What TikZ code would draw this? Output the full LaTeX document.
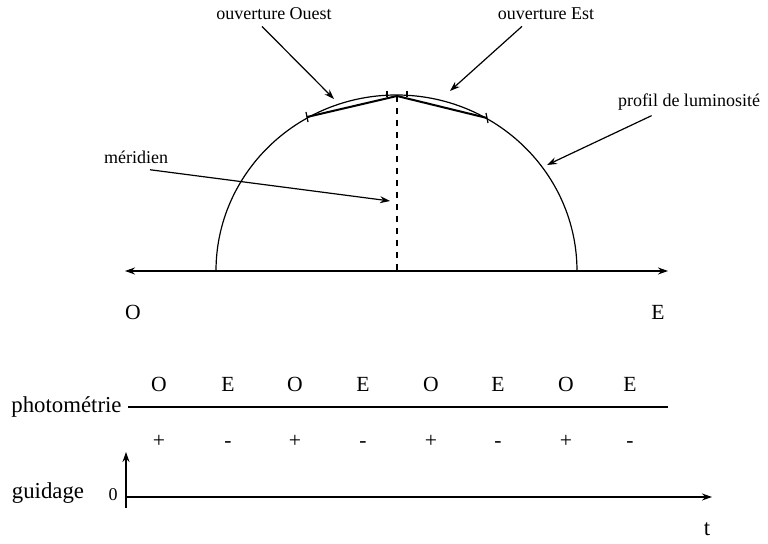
\documentclass[tikz,border=0pt]{standalone}
\usepackage{fontspec}
\setmainfont{Liberation Serif}
\usepackage{tikz}
\usetikzlibrary{arrows.meta,positioning,calc}
\tikzset{
  >={Stealth[length=5pt,width=3.5pt]},
  paxe/.style={line width=0.6pt},
  pfleche/.style={->, line width=0.6pt},
  pcorde/.style={line width=1pt},
  plbl/.style={font=\fontsize{9}{10}\selectfont, inner sep=1pt},
  pgrand/.style={font=\fontsize{11.4}{13}\selectfont, inner sep=1pt},
  plettre/.style={font=\fontsize{10.8}{12}\selectfont, inner sep=1pt},
}

\begin{document}
\begin{tikzpicture}[x=0.5pt,y=-0.5pt]
  \useasboundingbox (0,0) rectangle (768,544);

  % axe O--E et profil
  \coordinate (ouest) at (125,271);
  \coordinate (est)   at (668,271);
  \draw[paxe,<->] (ouest) -- (est);
  \draw[paxe] (216,271) arc[start angle=180, end angle=360,
                            x radius=180.5, y radius=176];
  \coordinate (sommet) at (397,96);
  \coordinate (pied)   at (397,271);
  \draw[paxe,dashed] (sommet) -- (pied);

  % ouvertures
  \coordinate (cg) at (307,117);
  \coordinate (cd) at (487,118);
  \draw[pcorde] (cg) -- (sommet) -- (cd);
  \draw[paxe] ($(cg)+(-1,-5)$) -- ($(cg)+(1,5)$);
  \draw[paxe] ($(cd)+(-1,-5)$) -- ($(cd)+(1,5)$);
  \draw[paxe] (387,91) -- (387,97);
  \draw[paxe] (407,91) -- (407,97);

  \node[plettre] (lO) at (133,312) {O};
  \node[plettre] (lE) at (658,312) {E};

  % légendes
  \node[plbl] (ouvO) at (274,14) {ouverture Ouest};
  \node[plbl] (ouvE) at (546,14) {ouverture Est};
  \node[plbl] (prof) at (689,102) {profil de luminosité};
  \node[plbl] (meri) at (136,157) {méridien};
  \coordinate (pO) at (334,99);
  \coordinate (pE) at (450,91);
  \coordinate (pP) at (547,165);
  \coordinate (pM) at (390,201);
  \draw[pfleche] ($(ouvO.south)+(-12,4)$) -- (pO);
  \draw[pfleche] ($(ouvE.south)+(-24,4)$) -- (pE);
  \draw[pfleche] ($(prof.south west)+(36,3)$) -- (pP);
  \draw[pfleche] ($(meri.south)+(14,4)$) -- (pM);

  % photométrie
  \coordinate (ph0) at (128,407);
  \coordinate (ph1) at (668,407);
  \draw[paxe] (ph0) -- (ph1);
  \node[pgrand, anchor=base east] (phot) at (124,413) {photométrie};
  \foreach \x/\l/\s in {159/O/+,228/E/-,295/O/+,363/E/-,
                        431/O/+,498/E/-,566/O/+,630/E/-} {
    \node[plettre] at (\x,384) {\l};
    \node[plettre, anchor=base] at (\x,448) {\s};
  }

  % guidage
  \coordinate (g0) at (126,497);
  \coordinate (gb) at (126,508);
  \coordinate (gh) at (126,452);
  \coordinate (gt) at (712,497);
  \draw[pfleche] (gb) -- (gh);
  \draw[pfleche] (g0) -- (gt);
  \node[pgrand] (guid) at (48,493) {guidage};
  \node[plbl] (zero) at (113,495) {0};
  \node[pgrand] (temps) at (707,529) {t};
\end{tikzpicture}
\end{document}
